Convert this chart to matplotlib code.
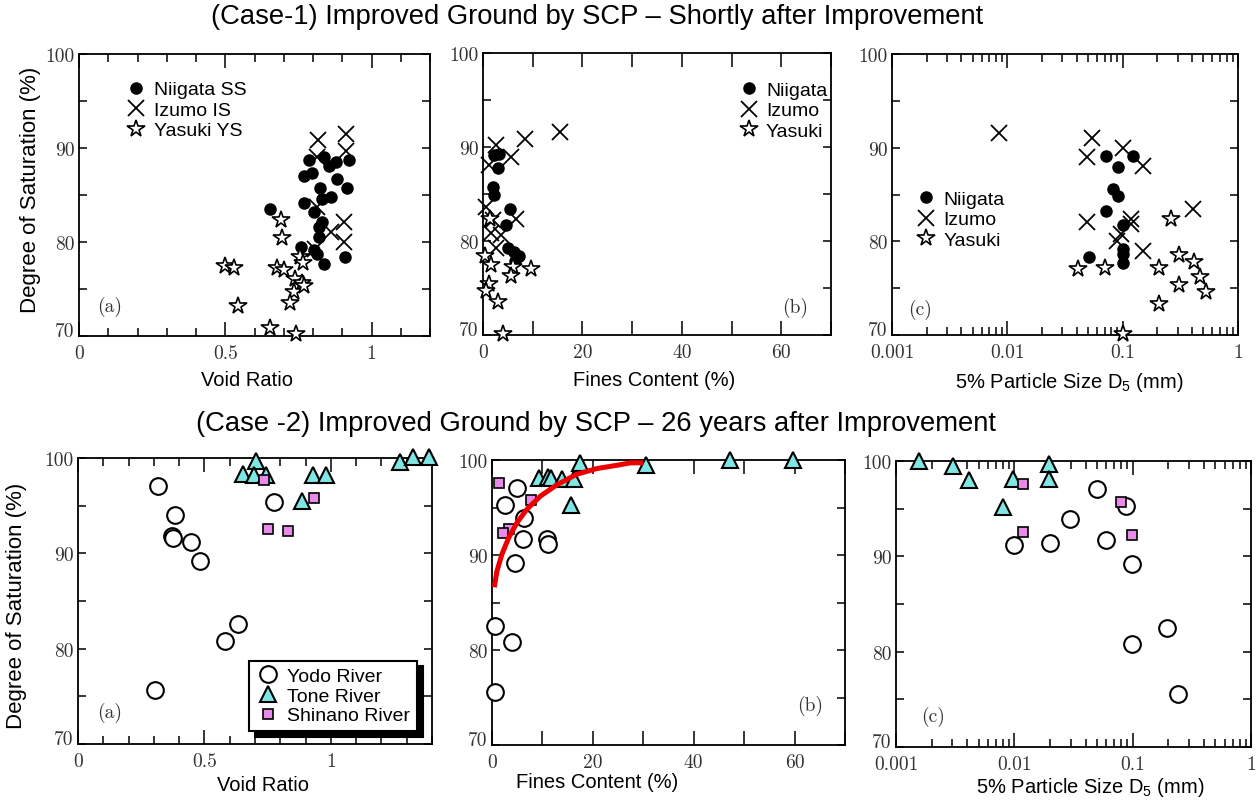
import matplotlib
matplotlib.use("Agg")
import matplotlib.pyplot as plt
from matplotlib import font_manager
from matplotlib.ticker import MultipleLocator, LogLocator, NullFormatter
from matplotlib.lines import Line2D

# ---------------------------------------------------------------------------
# Data
# ---------------------------------------------------------------------------
# Case-1 (a) void ratio
niigata_a_x = [0.654, 0.785, 0.837, 0.854, 0.877, 0.922, 0.768, 0.797, 0.882, 0.825, 0.917, 0.831,
               0.860, 0.768, 0.803, 0.831, 0.820, 0.820, 0.759, 0.803, 0.814, 0.837, 0.911]
niigata_a_y = [83.5, 88.7, 89.0, 88.1, 88.5, 88.7, 87.0, 87.3, 86.7, 85.7, 85.7, 84.6,
               84.8, 84.1, 83.2, 82.1, 81.6, 80.5, 79.5, 79.1, 78.7, 77.7, 78.4]
izumo_a_x = [0.817, 0.914, 0.914, 0.812, 0.814, 0.905, 0.860, 0.905, 0.808]
izumo_a_y = [90.8, 91.5, 89.7, 89.0, 83.7, 82.1, 81.1, 80.0, 79.3]
yasuki_a_x = [0.498, 0.529, 0.545, 0.692, 0.694, 0.677, 0.700, 0.757, 0.766, 0.740, 0.763,
              0.734, 0.723, 0.654, 0.742, 0.768]
yasuki_a_y = [77.5, 77.2, 73.2, 82.3, 80.4, 77.2, 77.0, 78.4, 77.8, 76.1, 75.6,
              74.7, 73.5, 70.8, 70.2, 75.3]

# Case-1 (b) fines content
niigata_b_x = [2.3, 3.3, 3.0, 1.95, 2.3, 5.4, 4.6, 5.0, 6.3, 7.3, 6.4]
niigata_b_y = [89.1, 89.3, 87.8, 85.7, 84.9, 83.4, 81.7, 79.3, 78.8, 78.4, 77.9]
izumo_b_x = [2.55, 8.4, 15.4, 5.7, 1.3, 0.7, 6.7, 2.0, 1.7, 3.7, 2.7]
izumo_b_y = [90.2, 90.9, 91.6, 88.9, 88.1, 83.6, 82.3, 82.2, 80.9, 80.6, 79.3]
yasuki_b_x = [1.5, 0.4, 1.6, 6.0, 5.6, 9.7, 1.3, 0.6, 3.0, 4.0]
yasuki_b_y = [82.3, 78.4, 77.4, 77.2, 76.3, 77.0, 75.4, 74.7, 73.5, 70.1]

# Case-1 (c) D5
niigata_c_x = [0.0714, 0.122, 0.0915, 0.0828, 0.0915, 0.0714, 0.101, 0.101, 0.101, 0.101, 0.0513]
niigata_c_y = [89.1, 89.1, 87.9, 85.6, 84.8, 83.2, 81.7, 79.2, 78.6, 77.7, 78.3]
izumo_c_x = [0.0085, 0.0537, 0.0493, 0.0997, 0.1507, 0.408, 0.0493, 0.119, 0.119, 0.0885, 0.097, 0.1507]
izumo_c_y = [91.6, 91.0, 89.0, 90.0, 88.0, 83.4, 82.1, 82.4, 81.9, 80.0, 80.8, 79.0]
yasuki_c_x = [0.0406, 0.0701, 0.101, 0.207, 0.207, 0.26, 0.309, 0.309, 0.417, 0.467, 0.525]
yasuki_c_y = [77.0, 77.1, 70.1, 77.2, 73.3, 82.4, 78.5, 75.3, 77.8, 76.2, 74.6]

# Case-2 (a) void ratio
yodo_a_x = [0.316, 0.382, 0.373, 0.376, 0.448, 0.481, 0.777, 0.633, 0.580, 0.303]
yodo_a_y = [97.1, 94.0, 91.8, 91.6, 91.2, 89.2, 95.4, 82.6, 80.8, 75.7]
tone_a_x = [0.702, 0.652, 0.698, 0.745, 0.929, 0.979, 0.887, 1.272, 1.324, 1.387]
tone_a_y = [99.7, 98.3, 98.2, 98.2, 98.2, 98.2, 95.5, 99.6, 100.1, 100.1]
shinano_a_x = [0.735, 0.932, 0.751, 0.830]
shinano_a_y = [97.7, 95.8, 92.6, 92.3]

# Case-2 (b) fines content
yodo_b_x = [4.95, 2.64, 6.4, 6.1, 11.0, 11.2, 4.5, 0.5, 4.0, 0.5]
yodo_b_y = [97.1, 95.3, 93.9, 91.7, 91.7, 91.2, 89.2, 82.5, 80.8, 75.6]
tone_b_x = [9.4, 11.2, 11.7, 13.9, 16.2, 17.4, 15.6, 30.6, 47.1, 59.7]
tone_b_y = [98.1, 98.2, 98.1, 98.0, 98.0, 99.7, 95.3, 99.5, 100.0, 100.0]
shinano_b_x = [1.3, 7.7, 3.3, 2.1]
shinano_b_y = [97.6, 95.8, 92.7, 92.3]
trend_x = [0.46, 0.98, 1.98, 3.3, 4.95, 6.9, 9.6, 12.9, 16.8, 20.8, 25.4, 27.4, 30.0]
trend_y = [86.6, 88.3, 90.1, 91.8, 93.4, 94.8, 96.2, 97.4, 98.5, 99.1, 99.5, 99.7, 99.7]

# Case-2 (c) D5
yodo_c_x = [0.010, 0.020, 0.0295, 0.0497, 0.0592, 0.0879, 0.098, 0.194, 0.098, 0.243]
yodo_c_y = [91.2, 91.4, 93.9, 97.1, 91.7, 95.3, 89.2, 82.5, 80.8, 75.6]
tone_c_x = [0.00155, 0.00305, 0.00414, 0.00807, 0.0098, 0.0198, 0.0198]
tone_c_y = [100.0, 99.5, 98.0, 95.2, 98.1, 99.7, 98.1]
shinano_c_x = [0.0119, 0.0119, 0.0792, 0.098]
shinano_c_y = [97.6, 92.6, 95.7, 92.2]

TITLE_1 = "(Case-1) Improved Ground by SCP \u2013 Shortly after Improvement"
TITLE_2 = "(Case -2) Improved Ground by SCP \u2013 26 years after Improvement"
YLABEL = "Degree of Saturation (%)"

# ---------------------------------------------------------------------------
# Style
# ---------------------------------------------------------------------------
installed = {f.name for f in font_manager.fontManager.ttflist}
SANS = "Liberation Sans"
NARROW = "Liberation Sans Narrow" if "Liberation Sans Narrow" in installed else SANS
SERIF = "cmr10"

plt.rcParams["font.family"] = SANS
plt.rcParams["mathtext.fontset"] = "custom"
plt.rcParams["mathtext.rm"] = NARROW
plt.rcParams["mathtext.it"] = NARROW

CYAN = "#7fe6e4"
PINK = "#e88ae8"

W, H = 1257, 803
fig = plt.figure(figsize=(W / 100, H / 100), dpi=100)


def px_axes(left, top, right, bottom):
    return fig.add_axes([left / W, 1 - bottom / H, (right - left) / W, (bottom - top) / H])


def ftext(x, y, s, **kw):
    kw.setdefault("ha", "center")
    kw.setdefault("va", "center")
    fig.text(x / W, 1 - y / H, s, **kw)


def style(ax, xticks, xlabels, xlim, log=False):
    for sp in ax.spines.values():
        sp.set_linewidth(1.3)
    ax.set_ylim(70, 100)
    ax.set_yticks([70, 80, 90, 100])
    ax.set_yticklabels(["70", "80", "90", "100"])
    ax.yaxis.set_minor_locator(MultipleLocator(5))
    if log:
        ax.set_xscale("log")
        ax.xaxis.set_minor_locator(LogLocator(base=10, subs=range(2, 10)))
        ax.xaxis.set_minor_formatter(NullFormatter())
    ax.set_xlim(*xlim)
    ax.set_xticks(xticks)
    ax.set_xticklabels(xlabels)
    ax.tick_params(which="both", direction="in", top=True, right=True, width=1.1,
                   labelsize=14, labelcolor="#333333", labelfontfamily=SERIF)
    ax.tick_params(axis="x", which="major", length=10, pad=6)
    ax.tick_params(axis="x", which="minor", length=6)
    ax.tick_params(axis="y", which="both", length=6, pad=3)
    # the bottom "70" sits a little above the corner, as in the original
    for lbl in ax.yaxis.get_majorticklabels():
        if lbl.get_text() == "70":
            lbl.set_va("baseline")


def scatter_case1(ax, nx, ny, ix, iy, yx, yy):
    ax.plot(nx, ny, "o", ms=8, color="black", ls="none", clip_on=False, zorder=3)
    ax.plot(ix, iy, "x", ms=11, mew=1.3, color="black", ls="none", clip_on=False, zorder=4)
    ax.plot(yx, yy, "*", ms=13, mew=1.2, mfc="white", mec="black", ls="none", clip_on=False, zorder=5)


def scatter_case2(ax, ox, oy, tx, ty, sx, sy):
    ax.plot(ox, oy, "o", ms=12, mew=1.5, mfc="white", mec="black", ls="none", clip_on=False, zorder=3)
    ax.plot(tx, ty, "^", ms=12, mew=1.5, mfc=CYAN, mec="black", ls="none", clip_on=False, zorder=4)
    ax.plot(sx, sy, "s", ms=7.5, mew=1.2, mfc=PINK, mec="black", ls="none", clip_on=False, zorder=5)


case1_handles = [
    Line2D([], [], marker="o", ms=8, color="black", ls="none"),
    Line2D([], [], marker="x", ms=11, mew=1.3, color="black", ls="none"),
    Line2D([], [], marker="*", ms=13, mew=1.2, mfc="white", mec="black", ls="none"),
]


def case1_legend(ax, labels, anchor):
    ax.legend(case1_handles, labels, loc="upper left", bbox_to_anchor=anchor, frameon=False,
              borderpad=0, borderaxespad=0, handlelength=1.0, handletextpad=0.4,
              labelspacing=0.15, prop={"family": NARROW, "size": 14})


# ---------------------------------------------------------------------------
# Case-1
# ---------------------------------------------------------------------------
ax1 = px_axes(79, 55, 430, 337)
style(ax1, [0, 0.5, 1], ["0", "0.5", "1"], (0, 1.2))
ax1.xaxis.set_minor_locator(MultipleLocator(0.1))
scatter_case1(ax1, niigata_a_x, niigata_a_y, izumo_a_x, izumo_a_y, yasuki_a_x, yasuki_a_y)
case1_legend(ax1, ["Niigata SS", "Izumo IS", "Yasuki YS"], (0.135, 0.905))

ax2 = px_axes(483, 54, 831, 336)
style(ax2, [0, 20, 40, 60], ["0", "20", "40", "60"], (0, 70))
ax2.xaxis.set_minor_locator(MultipleLocator(10))
ax2.tick_params(axis="x", which="minor", length=10)
scatter_case1(ax2, niigata_b_x, niigata_b_y, izumo_b_x, izumo_b_y, yasuki_b_x, yasuki_b_y)
case1_legend(ax2, ["Niigata", "Izumo", "Yasuki"], (0.735, 0.9))

ax3 = px_axes(892, 55, 1238, 336)
style(ax3, [0.001, 0.01, 0.1, 1], ["0.001", "0.01", "0.1", "1"], (0.001, 1), log=True)
scatter_case1(ax3, niigata_c_x, niigata_c_y, izumo_c_x, izumo_c_y, yasuki_c_x, yasuki_c_y)
case1_legend(ax3, ["Niigata", "Izumo", "Yasuki"], (0.07, 0.515))

# ---------------------------------------------------------------------------
# Case-2
# ---------------------------------------------------------------------------
ax4 = px_axes(78, 459, 432, 745)
style(ax4, [0, 0.5, 1], ["0", "0.5", "1"], (0, 1.4))
ax4.xaxis.set_minor_locator(MultipleLocator(0.1))
scatter_case2(ax4, yodo_a_x, yodo_a_y, tone_a_x, tone_a_y, shinano_a_x, shinano_a_y)
case2_handles = [
    Line2D([], [], marker="o", ms=12, mew=1.5, mfc="white", mec="black", ls="none"),
    Line2D([], [], marker="^", ms=12, mew=1.5, mfc=CYAN, mec="black", ls="none"),
    Line2D([], [], marker="s", ms=7.5, mew=1.2, mfc=PINK, mec="black", ls="none"),
]
leg = ax4.legend(case2_handles, ["Yodo River", "Tone River", "Shinano River"],
                 loc="lower right", bbox_to_anchor=(0.958, 0.045), borderaxespad=0,
                 fancybox=False, edgecolor="black", framealpha=1, borderpad=0.35,
                 handlelength=1.2, handletextpad=0.4, labelspacing=0.1,
                 shadow={"ox": 4, "oy": -4, "facecolor": "black", "edgecolor": "black", "alpha": 1},
                 prop={"family": NARROW, "size": 14})
leg.get_frame().set_linewidth(1.5)

ax5 = px_axes(492, 461, 845, 746)
style(ax5, [0, 20, 40, 60], ["0", "20", "40", "60"], (0, 70))
ax5.xaxis.set_minor_locator(MultipleLocator(10))
ax5.tick_params(axis="x", which="minor", length=10)
scatter_case2(ax5, yodo_b_x, yodo_b_y, tone_b_x, tone_b_y, shinano_b_x, shinano_b_y)
ax5.plot(trend_x, trend_y, color="#ee0000", lw=3.6, solid_capstyle="butt", zorder=6)

ax6 = px_axes(896, 462, 1251, 748)
style(ax6, [0.001, 0.01, 0.1, 1], ["0.001", "0.01", "0.1", "1"], (0.001, 1), log=True)
scatter_case2(ax6, yodo_c_x, yodo_c_y, tone_c_x, tone_c_y, shinano_c_x, shinano_c_y)

# ---------------------------------------------------------------------------
# Texts
# ---------------------------------------------------------------------------
ftext(597, 17, TITLE_1, fontsize=19.7)
ftext(596, 424, TITLE_2, fontsize=19.7)

ftext(31, 190, YLABEL, rotation=90, family=NARROW, fontsize=16)
ftext(17, 606, YLABEL, rotation=90, family=NARROW, fontsize=16)

ftext(247, 381, "Void Ratio", family=NARROW, fontsize=14.5)
ftext(654, 381, "Fines Content (%)", family=NARROW, fontsize=14.5)
ftext(1069, 383, "5% Particle Size D$_5$ (mm)", family=NARROW, fontsize=14.5)
ftext(263, 786, "Void Ratio", family=NARROW, fontsize=14.5)
ftext(597, 783, "Fines Content (%)", family=NARROW, fontsize=14.5)
ftext(1090, 788, "5% Particle Size D$_5$ (mm)", family=NARROW, fontsize=14.5)

for x, y, s in [(110, 307, "(a)"), (795, 308, "(b)"), (920, 310, "(c)"),
                (110, 713, "(a)"), (810, 706, "(b)"), (933, 717, "(c)")]:
    ftext(x, y, s, family=SERIF, fontsize=14, color="#333333")

fig.savefig("out.png", dpi=100)
